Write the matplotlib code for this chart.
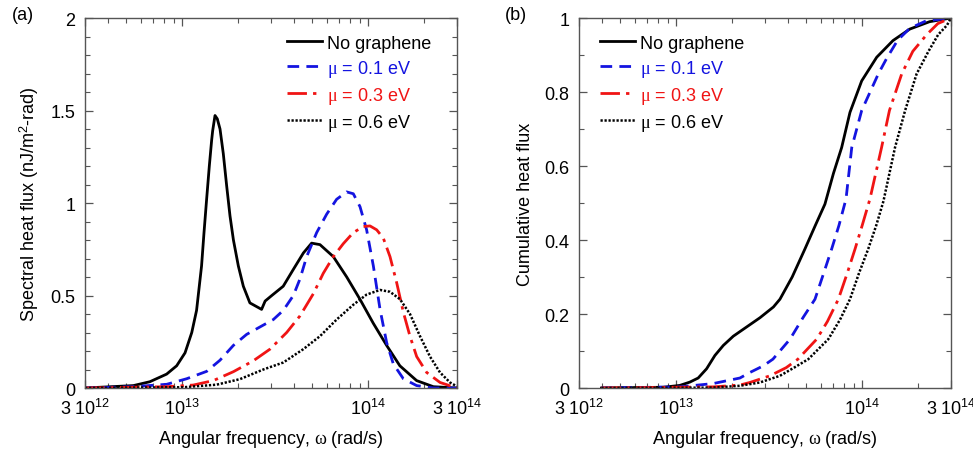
import numpy as np
import matplotlib
matplotlib.use("Agg")
import matplotlib.pyplot as plt
from matplotlib.ticker import FixedLocator, NullFormatter, FixedFormatter

plt.rcParams['font.family'] = ['Liberation Sans', 'DejaVu Sans']
plt.rcParams['mathtext.fontset'] = 'custom'
plt.rcParams['mathtext.rm'] = 'Liberation Sans'
plt.rcParams['mathtext.it'] = 'Liberation Serif'
plt.rcParams['mathtext.bf'] = 'Liberation Sans:bold'

# ---------------- Panel (a): spectral heat flux ----------------
w_a_none = [3.0e12, 5.46e12, 6.70e12, 8.24e12, 9.33e12, 1.035e13, 1.125e13, 1.194e13,
            1.27e13, 1.309e13, 1.352e13, 1.398e13, 1.439e13, 1.457e13, 1.50e13, 1.543e13,
            1.596e13, 1.662e13, 1.734e13, 1.806e13, 1.884e13, 2.002e13, 2.13e13,
            2.31e13, 2.67e13, 2.79e13, 3.03e13, 3.49e13, 3.95e13, 4.48e13, 4.96e13,
            5.50e13, 6.49e13, 7.66e13, 9.02e13, 1.064e14, 1.256e14, 1.479e14, 1.82e14,
            2.24e14, 2.99e14]
q_a_none = [0.0, 0.013, 0.034, 0.075, 0.12, 0.19, 0.30, 0.42,
            0.66, 0.84, 1.02, 1.20, 1.34, 1.39, 1.473, 1.455,
            1.40, 1.267, 1.09, 0.93, 0.80, 0.66, 0.55,
            0.46, 0.425, 0.47, 0.50, 0.55, 0.64, 0.73, 0.783,
            0.775, 0.71, 0.60, 0.48, 0.35, 0.23, 0.12, 0.04,
            0.007, 0.0]

w_a_01 = [3.0e12, 5.46e12, 8.25e12, 1.056e13, 1.353e13, 1.595e13, 1.882e13, 2.22e13,
          2.618e13, 3.088e13, 3.496e13, 3.957e13, 4.296e13, 4.665e13, 5.28e13, 5.98e13,
          6.76e13, 7.65e13, 8.31e13, 9.03e13, 9.80e13, 1.065e14, 1.157e14, 1.256e14,
          1.364e14, 1.544e14, 1.821e14, 2.239e14, 2.99e14]
q_a_01 = [0.0, 0.007, 0.02, 0.05, 0.09, 0.15, 0.23, 0.29,
          0.33, 0.37, 0.42, 0.50, 0.59, 0.71, 0.84, 0.94,
          1.02, 1.06, 1.05, 0.98, 0.855, 0.66, 0.425, 0.245,
          0.13, 0.05, 0.013, 0.0, 0.0]

w_a_03 = [3.0e12, 8.25e12, 1.147e13, 1.469e13, 1.882e13, 2.41e13, 2.963e13, 3.642e13,
          4.296e13, 5.07e13, 5.73e13, 6.49e13, 7.34e13, 8.31e13, 9.41e13, 1.022e14,
          1.110e14, 1.205e14, 1.309e14, 1.421e14, 1.544e14, 1.676e14, 1.821e14, 2.061e14,
          2.431e14, 2.99e14]
q_a_03 = [0.0, 0.007, 0.016, 0.04, 0.088, 0.147, 0.21, 0.30,
          0.39, 0.51, 0.62, 0.71, 0.78, 0.84, 0.873, 0.876,
          0.855, 0.81, 0.71, 0.57, 0.41, 0.28, 0.17, 0.084,
          0.03, 0.0]

w_a_06 = [3.0e12, 1.014e13, 1.531e13, 2.044e13, 2.728e13, 3.496e13, 4.477e13, 5.50e13,
          6.76e13, 8.31e13, 9.80e13, 1.157e14, 1.309e14, 1.481e14, 1.676e14, 1.898e14,
          2.147e14, 2.431e14, 2.751e14, 2.99e14]
q_a_06 = [0.0, 0.004, 0.018, 0.048, 0.10, 0.138, 0.21, 0.28,
          0.37, 0.45, 0.505, 0.53, 0.52, 0.48, 0.40, 0.28,
          0.17, 0.084, 0.03, 0.009]

# ---------------- Panel (b): cumulative heat flux ----------------
w_b_none = [3.96e12, 8.51e12, 1.045e13, 1.184e13, 1.312e13, 1.456e13, 1.614e13, 1.79e13,
            2.026e13, 2.39e13, 2.82e13, 3.33e13, 3.61e13, 4.2e13, 4.92e13, 5.6e13,
            6.3e13, 7.0e13, 7.75e13, 8.59e13, 9.93e13, 1.196e14, 1.463e14, 1.8e14,
            2.3e14, 3.0e14]
c_b_none = [0.0, 0.002, 0.007, 0.016, 0.027, 0.052, 0.088, 0.115,
            0.14, 0.165, 0.19, 0.219, 0.24, 0.30, 0.376, 0.44,
            0.497, 0.58, 0.65, 0.745, 0.83, 0.894, 0.939, 0.97,
            0.99, 1.0]

w_b_01 = [3.96e12, 1.045e13, 1.58e13, 2.2e13, 2.49e13, 2.94e13, 3.31e13, 4.09e13,
          4.8e13, 5.57e13, 6.2e13, 6.85e13, 7.5e13, 8.18e13, 8.78e13, 9.93e13,
          1.22e14, 1.35e14, 1.55e14, 1.8e14, 2.2e14, 3.0e14]
c_b_01 = [0.0, 0.003, 0.012, 0.027, 0.042, 0.06, 0.078, 0.132,
          0.19, 0.24, 0.31, 0.376, 0.44, 0.511, 0.65, 0.75,
          0.849, 0.89, 0.94, 0.972, 0.992, 1.0]

w_b_03 = [3.96e12, 1.58e13, 2.2e13, 2.49e13, 3.19e13, 3.9e13, 4.51e13, 5.69e13,
          6.5e13, 7.44e13, 8.3e13, 9.15e13, 1.0e14, 1.10e14, 1.27e14, 1.40e14,
          1.63e14, 1.87e14, 2.22e14, 2.55e14, 3.0e14]
c_b_03 = [0.0, 0.003, 0.008, 0.015, 0.033, 0.055, 0.078, 0.132,
          0.18, 0.24, 0.31, 0.376, 0.44, 0.511, 0.65, 0.75,
          0.849, 0.91, 0.955, 0.985, 1.0]

w_b_06 = [3.96e12, 1.58e13, 2.2e13, 2.82e13, 3.61e13, 4.3e13, 5.13e13, 6.57e13,
          7.6e13, 8.59e13, 9.6e13, 1.077e14, 1.19e14, 1.30e14, 1.50e14, 1.70e14,
          1.96e14, 2.27e14, 2.56e14, 2.85e14, 3.0e14]
c_b_06 = [0.0, 0.001, 0.006, 0.015, 0.033, 0.055, 0.078, 0.132,
          0.185, 0.24, 0.31, 0.376, 0.44, 0.505, 0.65, 0.75,
          0.849, 0.91, 0.955, 0.98, 1.0]

labels = ['No graphene', r'$\mu$ = 0.1 eV', r'$\mu$ = 0.3 eV', r'$\mu$ = 0.6 eV']
x_tick_vals = [3e12, 1e13, 1e14, 3e14]
x_tick_labels = [r'$\mathregular{3\ 10^{12}}$', r'$\mathregular{10^{13}}$',
                 r'$\mathregular{10^{14}}$', r'$\mathregular{3\ 10^{14}}$']

BLUE = '#1414e0'
RED = '#f01414'
styles = [
    dict(color='black', lw=2.0, ls='-'),
    dict(color=BLUE, lw=2.0, ls=(0, (4.2, 2.6))),
    dict(color=RED, lw=2.0, ls=(0, (7, 2.2, 1.2, 2.2))),
    dict(color='black', lw=1.8, ls=(0, (0.9, 0.7))),
]
text_colors = ['black', BLUE, RED, 'black']
FS = 13

fig = plt.figure(figsize=(9.73, 4.56), dpi=100)
axA = fig.add_axes([85/973, 1-389/456, 372/973, 370/456])
axB = fig.add_axes([579/973, 1-389/456, 372/973, 370/456])

series_a = [(w_a_none, q_a_none), (w_a_01, q_a_01), (w_a_03, q_a_03), (w_a_06, q_a_06)]
series_b = [(w_b_none, c_b_none), (w_b_01, c_b_01), (w_b_03, c_b_03), (w_b_06, c_b_06)]

for ax, series in ((axA, series_a), (axB, series_b)):
    for (w, v), st, lab in zip(series, styles, labels):
        ax.plot(w, v, label=lab, solid_joinstyle='round', **st)
    ax.set_xscale('log')
    ax.set_xlim(3e12, 3e14)
    ax.xaxis.set_major_locator(FixedLocator(x_tick_vals))
    ax.xaxis.set_major_formatter(FixedFormatter(x_tick_labels))
    minor = [k * 10.0**e for e in (12, 13, 14) for k in range(2, 10)]
    ax.xaxis.set_minor_locator(FixedLocator([m for m in minor if 3e12 < m < 3e14]))
    ax.xaxis.set_minor_formatter(NullFormatter())
    ax.tick_params(which='both', direction='in', top=True, right=True,
                   color='#555555', labelsize=FS)
    ax.tick_params(which='major', length=6, width=0.9, pad=7)
    ax.tick_params(which='minor', length=3.5, width=0.8)
    for sp in ax.spines.values():
        sp.set_color('#555555')
        sp.set_linewidth(1.0)
    ax.set_xlabel(r'Angular frequency, $\omega$ (rad/s)', fontsize=FS, labelpad=7)
    leg = ax.legend(loc='upper left', frameon=False, fontsize=FS,
                    handlelength=1.95, handletextpad=0.25, labelspacing=0.33,
                    borderaxespad=0.0, borderpad=0.0)
    for t, c in zip(leg.get_texts(), text_colors):
        t.set_color(c)

axA.legend_.set_bbox_to_anchor((0.543, 0.955))
axB.legend_.set_bbox_to_anchor((0.057, 0.955))

axA.set_ylim(0, 2)
axA.set_yticks([0, 0.5, 1, 1.5, 2])
axA.set_yticklabels(['0', '0.5', '1', '1.5', '2'])
axA.yaxis.set_minor_locator(FixedLocator(np.arange(0, 2.01, 0.1)))
axA.set_ylabel(r'Spectral heat flux (nJ/m$^2$-rad)', fontsize=FS, labelpad=7)

axB.set_ylim(0, 1)
axB.set_yticks([0, 0.2, 0.4, 0.6, 0.8, 1])
axB.set_yticklabels(['0', '0.2', '0.4', '0.6', '0.8', '1'])
axB.yaxis.set_minor_locator(FixedLocator(np.arange(0, 1.001, 0.1)))
axB.set_ylabel('Cumulative heat flux', fontsize=FS, labelpad=7)

fig.text(12/973, 1-16/456, '(a)', fontsize=FS, va='center', ha='left')
fig.text(505/973, 1-16/456, '(b)', fontsize=FS, va='center', ha='left')

fig.savefig('out.png', dpi=100)
